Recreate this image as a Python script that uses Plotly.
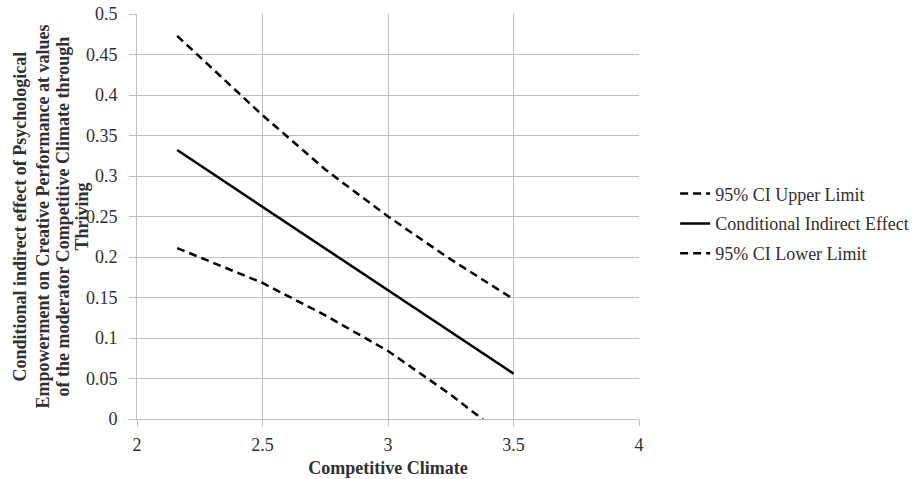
import plotly.graph_objects as go

x_vals = [2.16, 2.5, 2.75, 3.0, 3.25, 3.5]
upper = [0.473, 0.375, 0.308, 0.250, 0.197, 0.148]
effect = [0.332, 0.262, 0.211, 0.159, 0.108, 0.056]
lower = [0.211, 0.168, 0.128, 0.084, 0.030, -0.030]

series_names = ["95% CI Upper Limit", "Conditional Indirect Effect", "95% CI Lower Limit"]
x_ticks = [2, 2.5, 3, 3.5, 4]
x_tick_text = ["2", "2.5", "3", "3.5", "4"]
y_ticks = [0, 0.05, 0.1, 0.15, 0.2, 0.25, 0.3, 0.35, 0.4, 0.45, 0.5]
y_tick_text = ["0", "0.05", "0.1", "0.15", "0.2", "0.25", "0.3", "0.35", "0.4", "0.45", "0.5"]
y_title_lines = ["Conditional indirect effect of Psychological",
                 "Empowerment on Creative Performance at values",
                 "of the moderator Competitive Climate through",
                 "Thriving"]

FONT = "Liberation Serif"
TXT = "#303030"
fig = go.Figure()
for i, (name, ys, dash) in enumerate(zip(series_names, [upper, effect, lower], ["8px,5px", "solid", "8px,5px"])):
    fig.add_trace(go.Scatter(x=x_vals, y=ys, mode="lines", name=name, legendgroup=f"g{i}",
                             line=dict(color="black", width=2.5, dash=dash)))

line_x = [-0.2331, -0.1892, -0.1494, -0.1096]
annots = [dict(text=f"<b>{t}</b>", xref="paper", yref="paper", x=lx, y=0.5,
               xanchor="center", yanchor="middle", textangle=-90, showarrow=False,
               font=dict(family=FONT, size=18, color=TXT))
          for t, lx in zip(y_title_lines, line_x)]

fig.update_layout(
    width=919, height=479,
    margin=dict(l=137, r=280, t=14, b=60, autoexpand=False),
    plot_bgcolor="white", paper_bgcolor="white",
    font=dict(family=FONT, size=18, color=TXT),
    showlegend=True,
    legend=dict(x=1.072, y=0.482, xanchor="left", yanchor="middle", tracegroupgap=3.5,
                font=dict(family=FONT, size=18, color=TXT), bgcolor="rgba(0,0,0,0)"),
    xaxis=dict(range=[2, 4], tickvals=x_ticks, ticktext=x_tick_text, showgrid=True, automargin=False,
               tickfont=dict(family=FONT, size=18, color=TXT), ticklabelstandoff=3,
               gridcolor="#bfbfbf", gridwidth=1, showline=True, linecolor="#bfbfbf", linewidth=1,
               ticks="outside", ticklen=6, tickcolor="#bfbfbf", mirror=False, zeroline=False,
               title=dict(text="<b>Competitive Climate</b>", font=dict(family=FONT, size=18, color=TXT), standoff=7)),
    yaxis=dict(range=[0, 0.5], tickvals=y_ticks, ticktext=y_tick_text, showgrid=True, automargin=False,
               tickfont=dict(family=FONT, size=18, color=TXT), ticklabelstandoff=8,
               gridcolor="#bfbfbf", gridwidth=1, showline=True, linecolor="#bfbfbf", linewidth=1,
               ticks="outside", ticklen=7, tickcolor="#bfbfbf", zeroline=False),
    annotations=annots,
)
fig.write_html("out.html", config={"displayModeBar": False},
               post_script="document.body.style.margin='0';")
